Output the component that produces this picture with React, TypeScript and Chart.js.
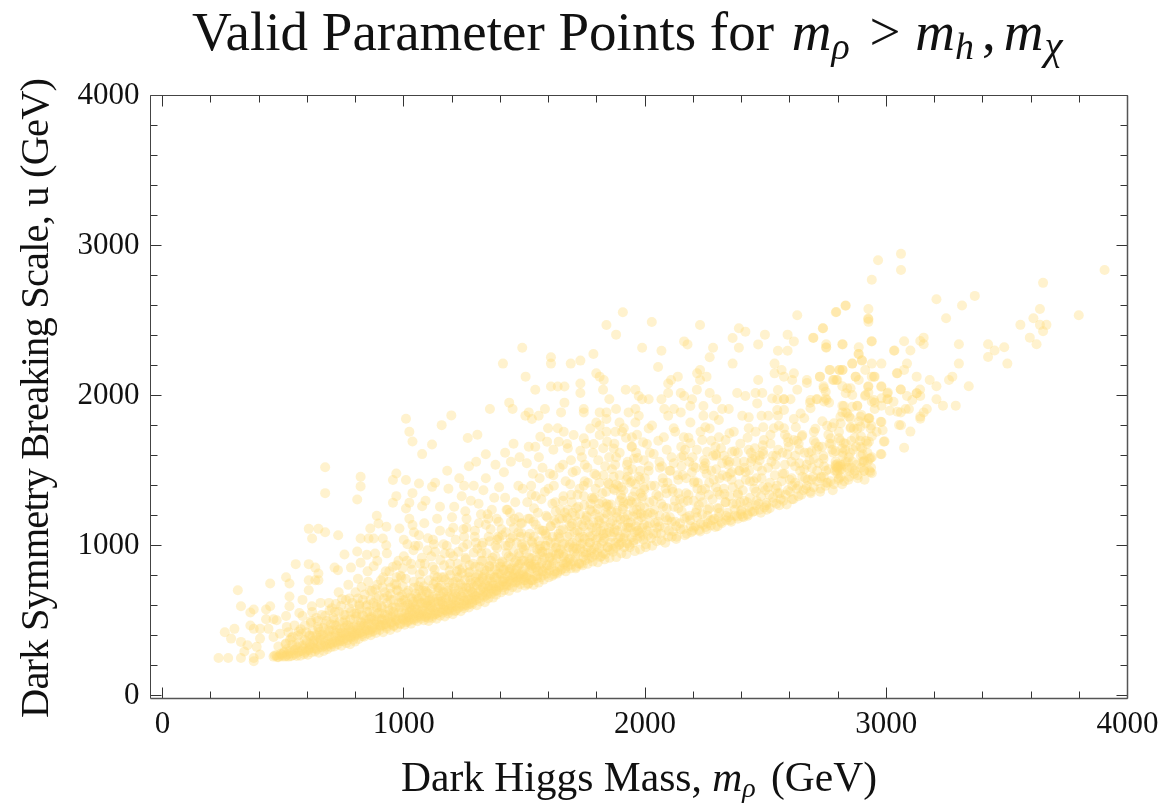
import React, { useEffect, useRef } from "react";
import { Chart, registerables } from "chart.js";
Chart.register(...registerables);

// Every list holds x,y pairs: Dark Higgs mass, breaking scale (GeV)
const sparseRight = [3061,2945,2966,2903,3061,2838,2940,2772,3905,2838,3650,2752,3367,2665,3208,2643,3314,2601,2832,2601,2793,2558,2926,2578,3637,2578,3798,2536,3610,2516,3248,2516,2926,2510,2926,2492,3556,2472,3637,2472,3664,2472,3650,2430,2738,2449,2698,2387,3595,2387,3623,2343,2940,2363,3074,2363,3155,2387,3141,2365,3155,2343,2751,2343,2751,2323,2818,2343,3301,2343,3422,2343,2886,2323,3034,2301,3100,2301,3449,2301,3489,2323,3422,2258,2886,2278,2899,2236,2859,2214,2940,2214,2980,2214,3086,2214,3301,2214,3502,2214,3074,2172,3046,2150,2767,2172,2807,2172,2818,2172,2725,2127,3126,2127,2873,2127,2886,2105,2940,2127,2952,2127,3274,2127,3260,2105,3180,2105,2671,2105,2671,2085,2779,2105,2793,2105,3208,2063,3342,2063,2980,2063,2926,2063,2740,2063,2749,2027,2818,2063,2852,2050,2832,2016,3060,2041,3060,2041,3140,2041,3126,2016,3126,2016,3007,2021,2926,2021,2912,1998,3086,1998,3141,1998,3208,1976,3007,1976,2980,1983,3108,1972,2749,1983,2763,1954,2742,1961,2711,1976,2684,1954,2940,1961,2952,1954,3235,1934,3288,1934,3168,1912,2980,1934,2952,1912,2880,1934,2859,1927,2818,1934,3094,1912,3080,1912,3060,1889,3155,1889,3141,1861,3141,1847,2818,1889,2832,1889,2846,1861,2897,1872,2926,1850,2980,1825,3061,1803,3100,1761,2993,1696,3074,1654,2980,1610,2940,1483,2940,1590,2908,1567];
const sparseMiddle = [1908,2556,1840,2471,1880,2407,2028,2491,2228,2471,1491,2320,1610,2256,1610,2214,1411,2214,1692,2214,1732,2234,1786,2278,1988,2320,2068,2300,2054,2191,2162,2362,2176,2342,2282,2320,2268,2256,2363,2385,2389,2449,2416,2427,2389,2320,2363,2214,2469,2342,2497,2407,2591,2407,2617,2362,2591,2300,2551,2300,2697,2385,2737,2449,2631,2536,2791,2556,2831,2600,2925,2514,2939,2362,2819,2342,2751,2320,2885,2278,3032,2300,2899,2234,2859,2214,2537,2214,2566,2171,2537,2149,2576,2127,2617,2149,2610,2105,2469,2105,2725,2127,2765,2171,2805,2171,2819,2171,2783,2105,2797,2105,2913,2171,3044,2149,2873,2127,2949,2127,1505,2127,1545,2040,1610,2062,1638,2062,1666,2062,1732,2082,1732,2018,1798,2149,1812,2127,1829,2105,1826,2040,1852,1976,1920,2040,1960,2040,1974,1998,1988,1976,2015,1976,2068,1976,2096,2018,2096,2082,2108,2105,2136,2127,2216,2149,2228,2171,2228,2105,2255,2127,2215,2040,2148,2018,2162,1998,2195,1976,2188,1931,2268,2018,2296,1976,2382,2018,2416,1998,2458,2018,2486,2018,1437,1954,1451,1911,1666,1954,1746,1911,1746,1889,1652,1889,1585,1911,1559,1867,1518,1889,1504,1867,1531,1845,1812,1889,1840,1889,1840,1845,1880,1911,1932,1889,1960,1911,1974,1867,1960,1822,1894,1822,1798,1822,1812,1802,1773,1782,1812,1738,2080,1911,2120,1911,2096,1867,2148,1889,2242,1931,2242,1867,2320,1911,2347,1911,2285,1867,2306,1838,2188,1822,2268,1782,2015,1782,2029,1802,2403,1867,2430,1856,2483,1867,2511,1867,2551,1867,2576,1976,2576,1976,2551,2038,2527,1982,2548,1976,2603,1976,2631,2040,2465,1949,2576,1905,2548,1905,2686,1971,2714,1976,2753,1971,2741,2049,2838,2049,2859,2005,2914,2005,2925,2060,2979,2060,3004,2016,2949,1971,3004,1976,2880,1931,2824,1931,2838,1882,2852,1849,2645,1882,2617,1845,2686,1916,2783,1816,2811,1816,2893,1860,2928,1849,2977,1827,2914,1816,2866,1782,2893,1794,2935,1782,3046,1894,3053,1805];
const sparseLeft = [674,1524,674,1351,821,1460,821,1396,807,1309,1009,1847,1023,1760,1036,1695,1157,1804,1197,1869,1076,1611,1117,1675,1265,1718,1305,1740,1357,1911,969,1482,955,1438,1009,1438,1063,1415,1117,1393,1036,1351,969,1331,955,1287,1023,1287,1009,1249,1076,1264,888,1200,1023,1180,1036,1138,1063,1071,861,1116,895,1149,928,1127,982,1116,821,1049,854,1049,875,1049,927,1004,913,1049,807,962,847,940,881,949,821,887,875,864,754,942,606,1113,646,1113,674,1091,620,1049,728,1071,552,878,606,878,633,855,646,816,713,855,727,838,781,855,512,791,526,749,446,749,606,771,646,771,633,771,606,704,526,662,312,704,325,598,526,598,446,598,429,576,580,640,619,598,378,576,364,556,429,511,460,511,473,504,512,533,567,553,580,533,364,469,378,447,404,447,439,447,258,424,298,447,284,382,325,360,352,338,339,296,325,253,232,253,272,253,378,253,378,231,404,382,390,327,404,276,460,393,487,415,515,460];
const cloudUpper = [1598,1783,1638,1783,1663,1760,1704,1738,1746,1716,1518,1660,1545,1660,1566,1727,1594,1694,1642,1694,1677,1678,1732,1634,1787,1678,1843,1694,1870,1649,1877,1760,1912,1783,1946,1723,1946,1660,2008,1678,2036,1611,2078,1723,2119,1783,2161,1723,2188,1683,2230,1760,2237,1705,2306,1723,2334,1705,2292,1660,2257,1627,2361,1627,2368,1760,2430,1783,2458,1760,2493,1705,2534,1783,2576,1783,2617,1705,2652,1738,2707,1683,2769,1716,2804,1716,2852,1783,2824,1683,2893,1660,2928,1694,2990,1694,2977,1611,2935,1583,2900,1560,1300,1560,1340,1610,1380,1540,1420,1620,1455,1680,1480,1590,1510,1550,1535,1480,1575,1520,1620,1470,1660,1540,1700,1490,1750,1540,1790,1480,1835,1530,1880,1590,1925,1540,1970,1585,2015,1530,2060,1560,2105,1500,2150,1590,2200,1530,2245,1570,2295,1510,2340,1570,2390,1500,2440,1560,2490,1610,2540,1540,2590,1610,2640,1550,2690,1630,2740,1580,2790,1630,2845,1590,1180,1500,1230,1450,1270,1530,1130,1420,1185,1380,1240,1330,1290,1400,1340,1450,1395,1390,1090,1300,1150,1260,1200,1190,1255,1230,1310,1280,1365,1240,1420,1320,1475,1400,1530,1340,2020,1620,2055,1700,2090,1640,2125,1760,2150,1660,2180,1720,2215,1640,2250,1790,2275,1700,2315,1650,2350,1750,2395,1680,2425,1720,2455,1650,2490,1790,2520,1740,2555,1800,2590,1720,2625,1790,2660,1850,2700,1760,2735,1830,2775,1790,2810,1860,2855,1700,2895,1730,2930,1850,2960,1760,2985,1770,3015,1900,3030,1960,1015,1010,1042,1090,1068,880,1085,1150,1098,970,1121,1040,1138,1180,1152,905,1178,1000,1192,1090,1209,1260,1226,960,1247,1110,1263,1010,1278,1300,1294,1060,1311,1150,1328,1020,1347,1210,1360,1110,1375,1320,1393,1160,1408,1070,1426,1240,1444,1160,1462,1290,1477,1190,1493,1380,1512,1290,1528,1400,1547,1330,1563,1450,1585,1360,1606,1480,1622,1400,1646,1520,1671,1430,1693,1570,1714,1500,1738,1590,1761,1520,1784,1620,1806,1570,1827,1650,1851,1590,1873,1680,1895,1620,1921,1720,1944,1660,1967,1740,1992,1690,1250,1400,1330,1370,1415,1490,1444,1560,1560,1590,1620,1640,1680,1650,1755,1680,1840,1760,1905,1760];
const wedgeA = [460,262,472,270,481,258,490,281,497,263,505,295,513,268,522,262,530,285,541,272,549,310,556,266,563,291,571,268,580,335,587,278,594,301,602,275,610,322,617,289,625,350,631,296,640,310,648,288,655,372,661,325,668,300,676,345,683,312,690,398,698,325,705,358,712,330,719,420,726,345,733,380,741,335,748,365,755,455,762,352,769,398,777,345,784,430,791,375,798,362,806,410,813,380,820,470,827,398,835,395,842,445,849,415,856,510,863,405,871,430,878,480,885,420,892,545,900,440,907,470,914,425,921,505,929,450,936,580,943,440,950,490,958,465,965,530,972,455,980,620,987,478,994,510,528,372,553,338,575,415,598,362,622,398,647,445,668,388,693,432,712,475,738,418,757,505,779,455,801,530,826,488,848,560,868,512,889,605,911,548,932,665,954,590,976,700,998,640,637,520,702,585,760,640,815,610,868,700,905,770,945,720,990,790,742,395,761,420,783,402,803,438,822,425,844,462,866,448,887,495,908,515,926,480,948,525,969,510,991,555,465,270,475,258,486,268,495,275,508,262,518,278,533,265,552,282,568,298,591,290,606,305,628,318,652,328,672,335,694,345,716,362,735,370,756,385,775,395,794,405,817,418,838,432,859,438,880,455,902,470,924,478,945,492,967,498,989,520,480,330,510,345,540,395,565,430,590,470,615,500,660,540,690,620,730,690,770,740,810,780,850,830,890,900,930,950,970,870,1000,930];
const fillLeft = [503,288,517,312,526,298,538,340,544,305,559,325,566,355,578,300,585,318,593,345,512,350,534,388,561,402,589,372,596,425,573,445,547,470,522,425,604,312,611,345,619,332,627,368,633,315,642,352,649,388,656,342,663,410,671,358,679,327,686,375,694,352,608,402,623,438,638,405,652,428,667,452,684,418,697,478,615,488,644,500,675,535,692,570,703,345,709,372,716,402,722,358,729,392,737,365,744,428,751,378,759,408,766,372,773,445,781,390,788,418,795,395,706,440,720,468,735,450,749,490,763,472,778,510,792,462,708,520,731,560,752,540,774,585,796,550,718,612,744,645,786,620,802,418,808,452,815,432,821,495,828,412,834,470,841,505,847,438,853,482,860,425,866,528,872,458,879,505,885,440,892,478,898,555,804,548,817,580,831,535,845,600,858,565,874,620,888,590,810,650,838,675,862,640,882,710,896,665,825,725,852,760,903,462,909,505,915,475,922,540,928,462,934,515,941,570,947,480,953,530,959,470,966,590,972,505,978,555,984,482,991,620,997,515,906,600,918,650,931,620,944,680,957,640,971,705,983,660,996,730,912,725,938,760,962,745,986,800,925,830,955,860,978,900];
const wedgeB = [1003,475,1010,520,1016,495,1024,560,1030,482,1037,610,1043,505,1050,535,1057,498,1063,650,1070,515,1076,570,1083,505,1090,700,1096,540,1103,500,1110,595,1117,520,1123,745,1130,560,1136,515,1143,630,1150,535,1156,790,1163,575,1170,530,1176,660,1183,550,1190,835,1196,600,1203,545,1210,695,1216,570,1223,880,1230,620,1236,565,1243,730,1250,585,1256,920,1263,640,1270,590,1276,770,1283,610,1290,955,1296,665,1303,605,1310,800,1316,630,1323,1000,1330,690,1336,625,1343,835,1350,650,1356,1030,1363,710,1370,655,1376,860,1383,675,1390,1060,1396,735,1403,690,1410,890,1416,705,1423,1090,1430,760,1436,700,1443,920,1450,725,1456,1120,1463,785,1470,720,1476,950,1483,745,1490,1150,1496,810,1006,600,1020,540,1034,650,1048,580,1062,545,1076,620,1090,530,1104,680,1118,590,1132,545,1146,720,1160,610,1174,570,1188,755,1202,640,1216,600,1230,790,1244,660,1258,615,1272,825,1286,690,1300,640,1314,860,1328,720,1342,670,1356,780,1370,735,1384,700,1398,815,1412,760,1426,735,1440,850,1454,790,1468,760,1482,880,1496,770,1012,685,1041,720,1069,760,1098,610,1127,800,1155,660,1184,700,1213,760,1241,820,1270,720,1298,760,1327,790,1355,860,1384,790,1412,840,1441,800,1469,850,1498,900,1030,880,1075,920,1120,860,1165,1010,1205,930,1250,1060,1295,1100,1340,1140,1385,1180,1430,1240,1475,1090,1100,1050,1150,1100,1205,1120,1260,1180,1320,1210,1380,1000,1440,1020,1490,1010,1060,1000,1130,960,1000,1040,1040,970];
const fillB = [1002,505,1005,548,1008,492,1011,575,1014,530,1017,612,1019,503,1022,590,1025,525,1027,655,1031,510,1033,568,1036,540,1039,628,1041,515,1044,595,1046,552,1049,680,1052,522,1054,610,1057,575,1059,645,1062,530,1065,705,1067,558,1070,620,1072,530,1075,665,1078,590,1080,545,1083,730,1085,565,1088,640,1091,525,1093,600,1095,690,1098,550,1100,635,1102,520,1105,580,1108,640,1110,545,1113,605,1116,715,1119,535,1121,660,1124,570,1127,625,1129,545,1132,760,1135,590,1137,650,1140,552,1143,700,1145,610,1148,560,1151,670,1153,735,1156,585,1159,630,1161,555,1164,690,1167,600,1169,575,1172,775,1175,645,1177,600,1180,565,1183,720,1185,625,1188,580,1191,660,1193,805,1196,610,1198,570,1201,590,1204,655,1207,720,1210,610,1212,565,1215,680,1218,635,1221,790,1224,585,1226,700,1229,640,1232,595,1235,745,1237,665,1240,610,1243,850,1246,690,1248,600,1251,635,1254,770,1257,655,1259,720,1262,605,1265,680,1268,820,1270,640,1273,615,1276,705,1279,750,1281,650,1284,625,1287,880,1290,730,1292,670,1295,640,1298,790,1301,665,1304,735,1307,810,1310,690,1312,650,1315,760,1318,705,1321,900,1324,670,1326,780,1329,725,1332,660,1335,840,1337,745,1340,690,1343,950,1346,770,1348,680,1351,715,1354,865,1357,735,1359,805,1362,680,1365,760,1368,920,1370,715,1373,695,1376,790,1379,840,1381,730,1384,705,1387,985,1390,815,1392,750,1395,725,1398,880,1401,735,1404,810,1407,895,1410,765,1412,725,1415,840,1418,780,1421,1000,1424,745,1426,865,1429,800,1432,735,1435,930,1437,825,1440,765,1443,1050,1446,850,1448,755,1451,790,1454,960,1457,815,1459,890,1462,755,1465,840,1468,1020,1470,790,1473,770,1476,870,1479,930,1481,810,1484,780,1487,1085,1490,900,1492,830,1495,800,1498,975];
const wedgeC = [1503,735,1510,790,1517,750,1524,860,1531,770,1538,740,1545,930,1552,800,1559,755,1566,1000,1573,835,1580,775,1587,1080,1594,870,1601,790,1608,1130,1615,900,1622,810,1629,1020,1636,815,1643,950,1650,835,1657,1180,1664,880,1671,830,1678,1060,1685,910,1692,850,1699,1220,1706,960,1713,850,1720,1100,1727,880,1734,1010,1741,870,1748,1270,1755,940,1762,880,1769,1140,1776,970,1783,895,1790,1320,1797,1040,1804,890,1811,1190,1818,930,1825,1070,1832,910,1839,1360,1846,990,1853,920,1860,1230,1867,960,1874,1110,1881,925,1888,1400,1895,1010,1902,950,1909,1260,1916,1060,1923,945,1930,1150,1937,990,1944,1430,1951,1020,1958,965,1965,1290,1972,1100,1979,975,1986,1190,1993,1040,1999,1450,1515,1180,1540,1250,1570,1310,1600,1380,1630,1230,1660,1300,1690,1410,1720,1340,1750,1430,1780,1230,1810,1420,1840,1280,1870,1460,1900,1340,1930,1500,1960,1410,1990,1330,1520,880,1548,850,1576,960,1604,920,1632,990,1660,950,1688,1010,1716,980,1744,1060,1772,1020,1800,1120,1828,1080,1856,1150,1884,1100,1912,1190,1940,1120,1968,1210,1996,1140,1530,1030,1580,1100,1630,1150,1680,1180,1730,1210,1780,1120,1830,1180,1880,1220,1930,1280,1980,1260];
const fillC = [1502,770,1505,860,1508,950,1511,800,1514,745,1517,890,1520,825,1523,1080,1526,775,1529,915,1532,850,1535,770,1538,990,1541,875,1544,800,1547,1140,1550,905,1553,785,1556,830,1559,1030,1562,860,1565,945,1568,790,1571,885,1574,1100,1577,830,1580,805,1583,920,1586,1000,1589,850,1592,815,1595,1190,1598,950,1504,1000,1522,1180,1539,1060,1556,1220,1573,960,1590,1070,1603,835,1606,925,1609,1020,1612,860,1615,800,1618,960,1621,885,1624,1170,1627,830,1630,985,1633,915,1636,825,1639,1060,1642,945,1645,860,1648,1240,1651,975,1654,845,1657,890,1660,1110,1663,925,1666,1015,1669,850,1672,950,1675,1190,1678,890,1681,865,1684,990,1687,1075,1690,915,1693,875,1696,1290,1699,1020,1610,1130,1628,1290,1645,1050,1662,1330,1680,1240,1695,1130,1702,895,1705,990,1708,1090,1711,925,1714,860,1717,1030,1720,950,1723,1260,1726,885,1729,1055,1732,980,1735,880,1738,1140,1741,1015,1744,925,1747,1330,1750,1045,1753,905,1756,955,1759,1190,1762,990,1765,1090,1768,915,1771,1020,1774,1280,1777,955,1780,925,1783,1065,1786,1155,1789,980,1792,940,1795,1380,1798,1095,1710,1200,1728,1380,1745,1130,1763,1420,1780,1320,1796,1210,1802,955,1805,1055,1808,1165,1811,985,1814,925,1817,1100,1820,1015,1823,1350,1826,950,1829,1130,1832,1050,1835,945,1838,1220,1841,1085,1844,990,1847,1420,1850,1120,1853,970,1856,1020,1859,1275,1862,1060,1865,1165,1868,980,1871,1090,1874,1370,1877,1020,1880,990,1883,1140,1886,1235,1889,1050,1892,1005,1895,1470,1898,1175,1810,1280,1828,1470,1845,1210,1863,1510,1880,1410,1896,1300,1902,1020,1905,1125,1908,1245,1911,1050,1914,990,1917,1175,1920,1085,1923,1440,1926,1015,1929,1205,1932,1120,1935,1005,1938,1300,1941,1155,1944,1055,1947,1510,1950,1195,1953,1035,1956,1090,1959,1360,1962,1130,1965,1240,1968,1045,1971,1165,1974,1460,1977,1085,1980,1060,1983,1215,1986,1320,1989,1120,1992,1070,1995,1570,1998,1255,1910,1370,1928,1560,1945,1290,1963,1620,1980,1500,1996,1390];
const wedgeD = [2003,990,2012,1070,2021,1150,2030,1000,2039,1240,2048,1030,2057,1330,2066,1080,2075,1420,2084,1020,2093,1170,2102,1500,2111,1060,2120,1260,2129,1045,2138,1350,2147,1110,2156,1470,2165,1070,2174,1190,2183,1560,2192,1090,2201,1300,2210,1130,2219,1420,2228,1095,2237,1210,2246,1510,2255,1110,2264,1340,2273,1170,2282,1600,2291,1125,2300,1250,2309,1450,2318,1150,2327,1380,2336,1200,2345,1540,2354,1170,2363,1280,2372,1630,2381,1195,2390,1410,2399,1240,2408,1190,2417,1490,2426,1200,2435,1320,2444,1580,2453,1230,2462,1450,2471,1280,2480,1220,2489,1630,2498,1370,2010,1210,2035,1300,2060,1200,2085,1380,2110,1160,2135,1470,2160,1290,2185,1200,2210,1520,2235,1370,2260,1240,2285,1440,2310,1340,2335,1290,2360,1490,2385,1340,2410,1560,2435,1430,2460,1360,2485,1500,2025,1400,2070,1530,2115,1360,2160,1600,2205,1430,2250,1550,2295,1600,2340,1460,2385,1620,2430,1640,2475,1570,2050,1120,2090,1250,2130,1130,2170,1350,2215,1240,2260,1150,2305,1190,2350,1330,2395,1290];
const fillD = [2004,1010,2011,1130,2018,1290,2026,1050,2033,1210,2040,1400,2047,1085,2054,1160,2061,1520,2068,1035,2075,1260,2082,1120,2089,1350,2096,1060,2103,1190,2110,1590,2117,1095,2124,1300,2131,1060,2138,1440,2145,1150,2152,1230,2159,1110,2166,1640,2173,1080,2180,1340,2187,1170,2194,1490,2198,1100,2203,1120,2210,1220,2217,1380,2224,1105,2231,1150,2238,1290,2245,1530,2252,1125,2259,1200,2266,1420,2273,1135,2280,1310,2287,1180,2294,1610,2301,1130,2308,1250,2315,1160,2322,1470,2329,1345,2336,1170,2343,1220,2350,1560,2357,1160,2364,1390,2371,1200,2378,1280,2385,1180,2392,1500,2399,1230,2404,1195,2411,1300,2418,1440,2425,1210,2432,1260,2439,1620,2446,1225,2453,1380,2460,1270,2467,1530,2474,1240,2481,1330,2488,1670,2495,1255];
const wedgeE = [2505,1240,2518,1420,2531,1290,2544,1600,2557,1270,2570,1480,2583,1340,2596,1660,2609,1310,2622,1530,2635,1400,2648,1340,2661,1620,2674,1440,2687,1350,2700,1700,2713,1500,2726,1360,2739,1600,2752,1420,2765,1680,2778,1370,2791,1530,2804,1450,2800,1520,2810,1540,2790,1540,2815,1510,2795,1500,2817,1410,2830,1640,2843,1440,2856,1520,2869,1720,2882,1450,2895,1600,2908,1500,2921,1680,2934,1490,2510,1520,2540,1380,2570,1620,2600,1440,2630,1700,2660,1510,2690,1440,2720,1660,2750,1500,2780,1620,2810,1700,2840,1560,2870,1500,2900,1650,2930,1580,2520,1680,2580,1740,2640,1640,2700,1580,2760,1740,2820,1620,2880,1780,2940,1730,2550,1350,2610,1400,2670,1540,2730,1460,2850,1620,2910,1440];
const fillE = [2503,1285,2510,1390,2517,1250,2524,1560,2531,1320,2538,1470,2545,1280,2552,1640,2559,1350,2566,1430,2573,1300,2580,1540,2587,1275,2594,1690,2601,1360,2608,1450,2615,1310,2622,1600,2629,1380,2636,1330,2643,1500,2650,1730,2657,1370,2664,1450,2671,1400,2678,1620,2685,1360,2692,1520,2699,1390,2706,1780,2713,1430,2720,1550,2727,1380,2734,1660,2741,1460,2748,1400,2755,1800,2762,1510,2769,1430,2776,1640,2783,1410,2790,1560,2797,1480,2804,1760,2811,1460,2818,1600,2825,1430,2832,1680,2839,1520,2846,1460,2853,1790,2860,1560,2867,1480,2874,1660,2881,1470,2888,1830,2895,1520,2902,1610,2909,1500,2916,1700,2923,1560,2930,1500,2938,1800];
const fillMidLeft = [612,400,630,375,644,460,657,405,673,480,688,440,699,395,711,505,723,440,734,495,746,420,758,540,769,470,781,560,793,510,804,470,816,600,827,540,839,480,851,610,862,520,874,560,886,650,897,510,909,590,921,690,933,540,945,640,957,560,969,740,981,590,993,670,620,560,655,620,680,500,715,560,740,600,775,650,800,690,830,640,860,700,890,740,915,790,940,830,970,790,995,850];
const fillMidB = [1005,640,1018,700,1029,590,1042,760,1053,660,1066,810,1079,700,1091,620,1104,770,1116,650,1128,840,1141,720,1153,630,1166,790,1179,690,1192,880,1205,750,1218,660,1231,840,1244,720,1257,910,1270,790,1283,690,1296,860,1309,750,1322,950,1335,810,1348,730,1361,900,1374,790,1387,1040,1400,860,1413,780,1426,950,1439,840,1452,1060,1465,900,1478,810,1491,990,1008,780,1034,840,1061,730,1087,880,1114,930,1140,790,1167,870,1193,950,1220,830,1246,990,1273,870,1299,1020,1326,900,1352,1060,1379,930,1405,1110,1432,1000,1458,1180,1485,1060,1013,900,1047,1000,1081,830,1125,1010,1170,950,1215,1040,1260,1120,1305,980,1350,1180,1395,1050,1440,1220,1485,1150];
const fillMidC = [1505,790,1519,920,1533,1020,1547,860,1561,1110,1575,900,1589,1000,1603,870,1617,1060,1631,940,1645,1180,1659,1010,1673,890,1687,1130,1701,980,1715,1250,1729,1090,1743,960,1757,1200,1771,1060,1785,1310,1799,1000,1813,1150,1827,1030,1841,1260,1855,1090,1869,1380,1883,1190,1897,1060,1911,1290,1925,1120,1939,1420,1953,1230,1967,1100,1981,1350,1995,1200,1512,1060,1538,1160,1564,980,1590,1200,1616,1280,1642,1080,1668,1220,1694,1340,1720,1160,1746,1400,1772,1240,1798,1470,1824,1290,1850,1410,1876,1540,1902,1390,1928,1460,1954,1580,1980,1440,1528,870,1553,975,1597,1035,1651,1102,1698,1148,1752,1170,1803,1245,1848,1272,1904,1318,1949,1328,1997,1375];
const fillMidD = [2008,1100,2021,1220,2034,1080,2047,1340,2060,1130,2073,1450,2086,1190,2099,1100,2112,1380,2125,1160,2138,1250,2151,1530,2164,1180,2177,1300,2190,1130,2203,1420,2216,1190,2229,1330,2242,1140,2255,1480,2268,1250,2281,1170,2294,1390,2307,1220,2320,1550,2333,1290,2346,1190,2359,1440,2372,1240,2385,1350,2398,1210,2411,1520,2424,1290,2437,1230,2450,1430,2463,1300,2476,1600,2489,1390,2502,1270,2015,1500,2041,1150,2067,1280,2093,1420,2119,1550,2145,1310,2171,1450,2197,1590,2223,1270,2249,1380,2275,1500,2301,1360,2327,1600,2353,1480,2379,1560,2405,1370,2431,1500,2457,1590,2483,1450];
const fillMidE = [2515,1340,2530,1600,2547,1400,2562,1310,2577,1480,2592,1370,2607,1560,2622,1420,2637,1680,2652,1460,2667,1380,2682,1570,2697,1460,2712,1640,2727,1450,2742,1530,2757,1420,2772,1680,2787,1500,2802,1440,2817,1650,2832,1560,2847,1500,2862,1640,2877,1540,2892,1700,2907,1560,2922,1620,2937,1520,2802,1530,2798,1545,2812,1525,2806,1505,2820,1540,2796,1520];

const xTicks = [0,200,400,600,800,1000,1200,1400,1600,1800,2000,2200,2400,2600,2800,3000,3200,3400,3600,3800,4000];
const yTicks = [0,200,400,600,800,1000,1200,1400,1600,1800,2000,2200,2400,2600,2800,3000,3200,3400,3600,3800,4000];

const toPoints = (flat: number[]) => {
  const out: { x: number; y: number }[] = [];
  for (let i = 0; i + 1 < flat.length; i += 2) out.push({ x: flat[i], y: flat[i + 1] });
  return out;
};

const frameAndTicks = {
  id: "frameAndTicks",
  afterDraw(chart: any) {
    const { ctx, chartArea: a, scales } = chart;
    ctx.save();
    ctx.strokeStyle = "#333";
    ctx.lineWidth = 1;
    const seg = (x1: number, y1: number, x2: number, y2: number) => {
      ctx.beginPath(); ctx.moveTo(x1, y1); ctx.lineTo(x2, y2); ctx.stroke();
    };
    const snap = (v: number) => Math.round(v - 0.5) + 0.5;
    xTicks.forEach((t) => {
      const p = snap(scales.x.getPixelForValue(t));
      const len = t % 1000 === 0 ? 11 : 7;
      seg(p, a.bottom, p, a.bottom - len);
      seg(p, a.top, p, a.top + len);
    });
    yTicks.forEach((t) => {
      const p = snap(scales.y.getPixelForValue(t));
      const len = t % 1000 === 0 ? 11 : 7;
      seg(a.left, p, a.left + len, p);
      seg(a.right, p, a.right - len, p);
    });
    ctx.strokeStyle = "#444";
    seg(a.left, a.top, a.right, a.top);
    seg(a.left, a.top, a.left, a.bottom);
    ctx.strokeStyle = "#555";
    ctx.lineWidth = 1.5;
    seg(a.left, a.bottom, a.right, a.bottom);
    seg(a.right, a.top, a.right, a.bottom);
    ctx.restore();
  },
};

const SERIF = '"Liberation Serif", serif';
const abs = (s: React.CSSProperties): React.CSSProperties => ({
  position: "absolute", fontFamily: SERIF, color: "#111", whiteSpace: "nowrap", lineHeight: 1, ...s,
});
const Sub = ({ c, size, shift = 0 }: { c: string; size: number; shift?: number }) => (
  <i style={{ fontSize: size, position: "relative", top: size * 0.23, lineHeight: 0, marginLeft: shift }}>{c}</i>
);
const gap = (px: number): React.CSSProperties => ({ marginLeft: px });

export default function App() {
  const ref = useRef<HTMLCanvasElement>(null);
  useEffect(() => {
    const data = toPoints([
      ...wedgeA, ...fillLeft, ...fillMidLeft, ...wedgeB, ...fillB, ...fillMidB, ...wedgeC, ...fillC, ...fillMidC,
      ...wedgeD, ...fillD, ...fillMidD, ...wedgeE, ...fillE, ...fillMidE,
      ...cloudUpper, ...sparseLeft, ...sparseMiddle, ...sparseRight,
    ]);
    const chart = new Chart(ref.current!, {
      type: "scatter",
      data: {
        datasets: [{
          label: "Valid parameter points",
          data,
          backgroundColor: "rgba(255,217,115,0.35)",
          borderWidth: 0,
          pointRadius: 5,
        }],
      },
      options: {
        animation: false,
        responsive: false,
        layout: { padding: { top: 95.5, right: 34.5, left: 0, bottom: 0 } },
        plugins: { legend: { display: false }, tooltip: { enabled: false } },
        scales: {
          x: {
            type: "linear", min: -50, max: 4000,
            grid: { display: false }, border: { display: false },
            afterBuildTicks: (s: any) => { s.ticks = xTicks.map((value) => ({ value })); },
            afterFit: (s: any) => { s.height = 104.5; },
            ticks: {
              maxRotation: 0, autoSkip: false, padding: 0, color: "#111",
              font: { family: SERIF, size: 31 },
              callback: (v: any) => (v % 1000 === 0 ? String(v) : ""),
            },
          },
          y: {
            type: "linear", min: -17, max: 4000,
            grid: { display: false }, border: { display: false },
            afterBuildTicks: (s: any) => { s.ticks = yTicks.map((value) => ({ value })); },
            afterFit: (s: any) => { s.width = 150.5; },
            ticks: {
              autoSkip: false, padding: 3, color: "#111",
              font: { family: SERIF, size: 31 },
              callback: (v: any) => (v % 1000 === 0 ? String(v) : ""),
            },
          },
        },
      },
      plugins: [frameAndTicks],
    } as any);
    return () => chart.destroy();
  }, []);
  return (
    <div style={{ position: "fixed", left: 0, top: 0, width: 1162, height: 803, background: "#fff", overflow: "hidden" }}>
      <canvas ref={ref} width={1162} height={803} style={{ position: "absolute", left: 0, top: 0, width: 1162, height: 803 }} />
      <div style={abs({ left: 192, top: 4, fontSize: 55 })}>
        Valid Parameter Points for <i style={gap(4)}>m</i><Sub c="ρ" size={38} /> <span style={gap(6)}>&gt;</span> <i style={gap(1)}>m</i><Sub c="h" size={38} /><span style={gap(8)}>,</span><i style={gap(8)}>m</i><Sub c="χ" size={41} shift={1} />
      </div>
      <div style={abs({ left: 401, top: 757, fontSize: 41.5 })}>
        Dark Higgs Mass, <i>m</i><Sub c="ρ" size={28} /> <span style={gap(5)}>(GeV)</span>
      </div>
      <div style={abs({ left: 15, top: 718, fontSize: 40.5, letterSpacing: -0.84, transformOrigin: "0 0", transform: "rotate(-90deg)" })}>
        Dark Symmetry Breaking Scale, u (GeV)
      </div>
    </div>
  );
}
